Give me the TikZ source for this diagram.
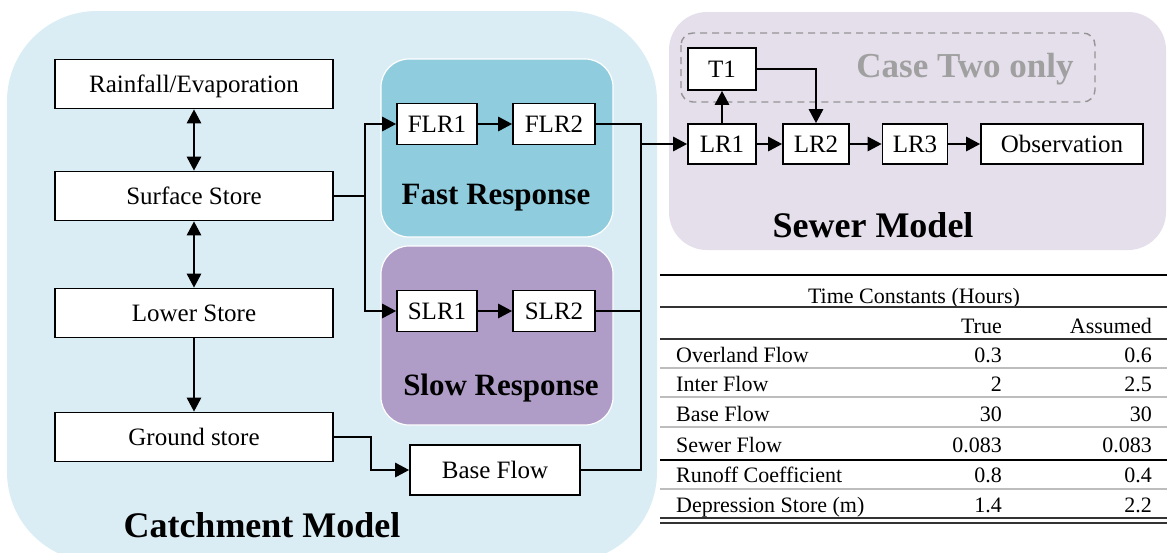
\documentclass[tikz,border=0pt]{standalone}
\usepackage{fontspec}
\setmainfont{Liberation Serif}
\usetikzlibrary{arrows.meta}
\definecolor{catchbg}{HTML}{DAEDF4}
\definecolor{fastbg}{HTML}{8ECCDE}
\definecolor{slowbg}{HTML}{AF9DC8}
\definecolor{sewerbg}{HTML}{E5DEEB}
\definecolor{casegray}{HTML}{A0A0A0}
\definecolor{dashgray}{HTML}{959595}
\definecolor{rulegray}{HTML}{BDBDBD}
\begin{document}
\begin{tikzpicture}[x=1pt,y=-1pt,
  >={Triangle[length=14pt,width=14pt]},
  blk/.style={draw=black, fill=white, line width=1.6pt, inner sep=0pt,
    text height=16.5pt, text depth=0pt, font=\fontsize{25}{30}\selectfont},
  wire/.style={line width=2.7pt},
  title/.style={font=\bfseries\fontsize{36}{40}\selectfont, anchor=base},
  subtitle/.style={font=\bfseries\fontsize{31}{36}\selectfont, anchor=base},
  group/.style={draw=white, line width=1.2pt, rounded corners=28pt},
  tbl/.style={font=\fontsize{22}{26}\selectfont, inner sep=0pt},
  tl/.style={tbl, anchor=base west},
  tr/.style={tbl, anchor=base east},
  thickrule/.style={line width=2pt, black},
  midrule/.style={line width=1.5pt, black!80},
  lightrule/.style={line width=1.5pt, rulegray}]
\useasboundingbox (0,0) rectangle (1167,552);

% ---------- group backgrounds ----------
\fill[catchbg, rounded corners=90pt] (7,11) rectangle (657,562);
\filldraw[group, fill=fastbg] (381,59) rectangle (613,237);
\filldraw[group, fill=slowbg] (381,246) rectangle (613,425);
\fill[sewerbg, rounded corners=38pt] (669,12) rectangle (1166,250);
\draw[dashgray, line width=1.4pt, dash pattern=on 7pt off 5pt, rounded corners=12pt]
  (681,33) rectangle (1095,102);

% ---------- group titles ----------
\node[subtitle] (fasttitle) at (496,204) {Fast Response};
\node[subtitle] (slowtitle) at (501,395) {Slow Response};
\node[title] (catchtitle) at (262,537) {Catchment Model};
\node[title] (sewertitle) at (873,237) {Sewer Model};
\node[title, text=casegray, font=\bfseries\fontsize{35}{40}\selectfont] (casetwo) at (965,77) {Case Two only};

% ---------- catchment stores ----------
\node[blk, minimum width=278pt, minimum height=49pt] (rain) at (194,84) {Rainfall/Evaporation};
\node[blk, minimum width=278pt, minimum height=49pt] (surf) at (194,196) {Surface Store};
\node[blk, minimum width=278pt, minimum height=49pt] (lower) at (194,313) {Lower Store};
\node[blk, minimum width=278pt, minimum height=49pt] (ground) at (194,437) {Ground store};
\node[blk, minimum width=170pt, minimum height=50pt] (base) at (495,470) {Base Flow};

% ---------- fast and slow reservoirs ----------
\node[blk, minimum width=80pt, minimum height=41pt] (flr1) at (437,124) {FLR1};
\node[blk, minimum width=82pt, minimum height=41pt] (flr2) at (554,124) {FLR2};
\node[blk, minimum width=80pt, minimum height=41pt] (slr1) at (437,311) {SLR1};
\node[blk, minimum width=82pt, minimum height=41pt] (slr2) at (554,311) {SLR2};

% ---------- sewer reservoirs ----------
\node[blk, minimum width=68pt, minimum height=42pt] (t1) at (722,69) {T1};
\node[blk, minimum width=68pt, minimum height=40pt] (lr1) at (722,144) {LR1};
\node[blk, minimum width=66pt, minimum height=40pt] (lr2) at (816,144) {LR2};
\node[blk, minimum width=65pt, minimum height=40pt] (lr3) at (915,144) {LR3};
\node[blk, minimum width=162pt, minimum height=40pt] (obs) at (1062,144) {Observation};

% ---------- junction points ----------
\coordinate (split) at (365,196);
\coordinate (mtop) at (641,124);
\coordinate (mout) at (641,144);
\coordinate (mbot) at (641,470);
\coordinate (gbend) at (371,437);

% ---------- catchment connectors ----------
\draw[wire, <->] (rain.south) -- (surf.north);
\draw[wire, <->] (surf.south) -- (lower.north);
\draw[wire, ->] (lower.south) -- (ground.north);
\draw[wire] (surf.east) -- (split);
\draw[wire, ->] (split) |- (flr1.west);
\draw[wire, ->] (split) |- (slr1.west);
\draw[wire, ->] (flr1.east) -- (flr2.west);
\draw[wire, ->] (slr1.east) -- (slr2.west);
\draw[wire, ->] (ground.east) -- (gbend) |- (base.west);
\draw[wire] (flr2.east) -- (mtop) -- (mbot) -- (base.east);
\draw[wire] (slr2.east) -- (slr2.east -| mtop);

% ---------- sewer connectors ----------
\draw[wire, ->] (mout) -- (lr1.west);
\draw[wire, ->] (lr1.north) -- (t1.south);
\draw[wire, ->] (t1.east) -| (lr2.north);
\draw[wire, ->] (lr1.east) -- (lr2.west);
\draw[wire, ->] (lr2.east) -- (lr3.west);
\draw[wire, ->] (lr3.east) -- (obs.west);

% ---------- parameter table ----------
\draw[thickrule] (660,275) -- (1167,275);
\node[tbl, anchor=base] (tcap) at (914,303) {Time Constants (Hours)};
\draw[midrule] (660,307) -- (1167,307);
\node[tr] (htrue) at (1002,333) {True};
\node[tr] (hass) at (1152,333) {Assumed};
\draw[midrule] (660,339) -- (1167,339);

\node[tl] (r1) at (676,362) {Overland Flow};
\node[tr] (r1a) at (1002,362) {0.3};
\node[tr] (r1b) at (1152,362) {0.6};
\draw[lightrule] (660,368) -- (1167,368);

\node[tl] (r2) at (676,391) {Inter Flow};
\node[tr] (r2a) at (1002,391) {2};
\node[tr] (r2b) at (1152,391) {2.5};
\draw[lightrule] (660,397) -- (1167,397);

\node[tl] (r3) at (676,421) {Base Flow};
\node[tr] (r3a) at (1002,421) {30};
\node[tr] (r3b) at (1152,421) {30};
\draw[lightrule] (660,427) -- (1167,427);

\node[tl] (r4) at (676,452) {Sewer Flow};
\node[tr] (r4a) at (1002,452) {0.083};
\node[tr] (r4b) at (1152,452) {0.083};
\draw[thickrule] (660,460) -- (1167,460);

\node[tl] (r5) at (676,482) {Runoff Coefficient};
\node[tr] (r5a) at (1002,482) {0.8};
\node[tr] (r5b) at (1152,482) {0.4};
\draw[lightrule] (660,489) -- (1167,489);

\node[tl] (r6) at (676,512) {Depression Store (m)};
\node[tr] (r6a) at (1002,512) {1.4};
\node[tr] (r6b) at (1152,512) {2.2};
\draw[midrule] (660,518) -- (1167,518);
\draw[midrule] (660,523) -- (1167,523);
\end{tikzpicture}
\end{document}
